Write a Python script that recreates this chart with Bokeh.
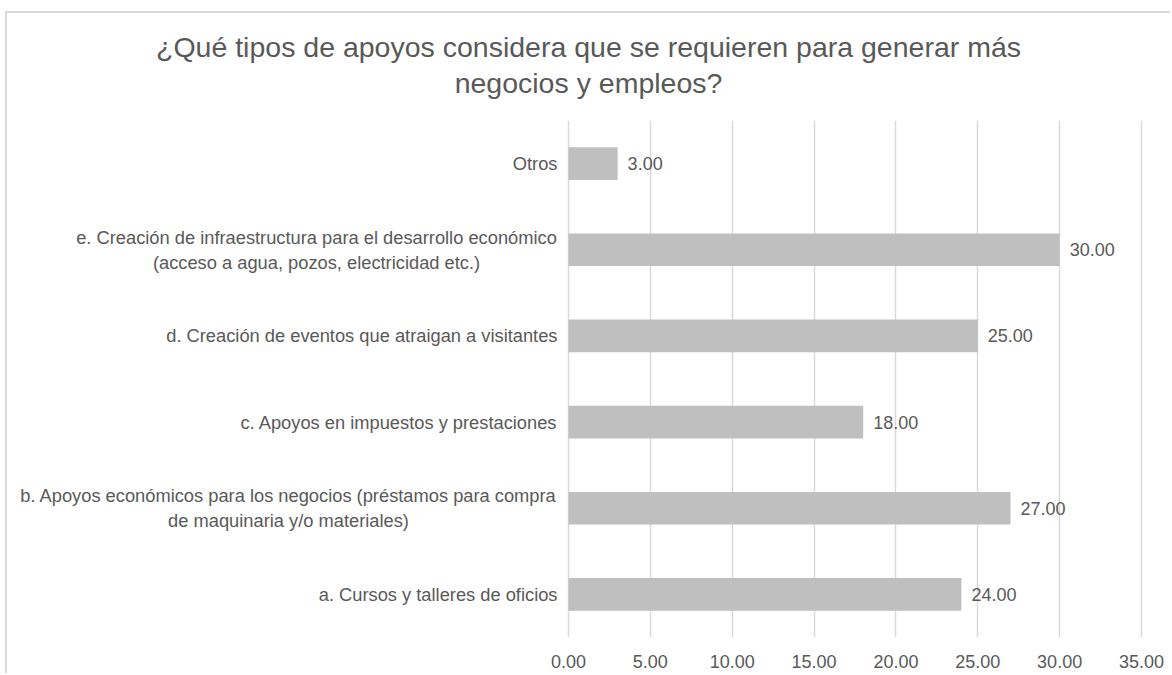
from bokeh.plotting import figure
from bokeh.layouts import column
from bokeh.models import Range1d, FactorRange, Div, NumeralTickFormatter, FixedTicker, ColumnDataSource
from bokeh.core.properties import value
from bokeh.embed import file_html
from bokeh.resources import INLINE

# ---- data ----
title_lines = ["¿Qué tipos de apoyos considera que se requieren para generar más",
               "negocios y empleos?"]
categories = [
    "a. Cursos y talleres de oficios",
    "b. Apoyos económicos para los negocios (préstamos para compra\nde maquinaria y/o materiales)",
    "c. Apoyos en impuestos y prestaciones",
    "d. Creación de eventos que atraigan a visitantes",
    "e. Creación de infraestructura para el desarrollo económico\n(acceso a agua, pozos, electricidad etc.)",
    "Otros",
]
values = [24, 27, 18, 25, 30, 3]
x_ticks = [0, 5, 10, 15, 20, 25, 30, 35]

FONT = "Liberation Sans"
TXT = "#595959"
BORDER = "2px solid #d9d9d9"

# ---- layout (pixels) ----
W, H = 1165, 554
PX_PER_UNIT = 16.371          # 35 units across the value area
LEFT_AREA = 561               # pixels left of the zero line (category labels)
RIGHT_AREA = 31               # pixels right of the 35 line

single = [c for c in categories if "\n" not in c]
multi = [c for c in categories if "\n" in c]
# multi-line labels: lines centred, block right edge 11px left of the zero line
multi_off = {categories[1]: -280, categories[4]: -252}

src = ColumnDataSource(dict(cat=categories, val=values,
                            lbl=[f"{v:.2f}" for v in values]))
src_single = ColumnDataSource(dict(cat=single, x=[0] * len(single)))
src_multi = ColumnDataSource(dict(cat=multi, x=[0] * len(multi),
                                  off=[multi_off[c] for c in multi]))

title_html = ('<div style="display: block; width: %dpx; font-family: \'Liberation Sans\'; '
              'font-size: 28.5px; color: %s; line-height: 36px; text-align: center; '
              'padding-top: 16px; white-space: nowrap;">%s<br>%s</div>') % (
                  W - 2, TXT, title_lines[0], title_lines[1])
title_div = Div(text=title_html, width=W, height=108, margin=0,
                styles={"border-top": BORDER, "border-left": BORDER})

p = figure(width=W, height=H, output_backend="svg", toolbar_location=None,
           x_range=Range1d(-LEFT_AREA / PX_PER_UNIT, 35 + RIGHT_AREA / PX_PER_UNIT),
           y_range=FactorRange(factors=categories, range_padding=0),
           min_border_left=0, min_border_right=0, min_border_top=1, min_border_bottom=36)
p.margin = 0
p.styles = {"border-left": BORDER}
p.outline_line_color = None
p.background_fill_color = "white"
p.border_fill_color = "white"
p.title.visible = False

p.hbar(y="cat", right="val", left=0, height=0.38, source=src,
       fill_color="#BFBFBF", line_color=None)
p.text(x="val", y="cat", text="lbl", source=src, x_offset=10,
       text_align="left", text_baseline="middle", text_color=TXT,
       text_font=value(FONT), text_font_size="18px")

# category labels
p.text(x="x", y="cat", text="cat", source=src_single, x_offset=-11,
       text_align="right", text_baseline="middle", text_color=TXT,
       text_font=value(FONT), text_font_size="18.3px")
p.text(x="x", y="cat", text="cat", source=src_multi, x_offset="off",
       text_align="center", text_baseline="middle", text_color=TXT, text_line_height=1.2,
       text_font=value(FONT), text_font_size="18.3px")

# axes
ticker = FixedTicker(ticks=x_ticks)
p.yaxis.visible = False
p.ygrid.grid_line_color = None
p.xgrid.ticker = ticker
p.xgrid.grid_line_color = "#D9D9D9"
p.xgrid.grid_line_width = 1.5
p.xaxis.ticker = ticker
p.xaxis.formatter = NumeralTickFormatter(format="0.00")
p.xaxis.axis_line_color = None
p.xaxis.major_tick_line_color = None
p.xaxis.minor_tick_line_color = None
p.xaxis.major_label_standoff = 11
p.xaxis.major_label_text_color = TXT
p.xaxis.major_label_text_font = FONT
p.xaxis.major_label_text_font_size = "18px"

layout = column(title_div, p, spacing=0, margin=(11, 0, 0, 5))

open("out.html", "w").write(file_html(layout, INLINE))
